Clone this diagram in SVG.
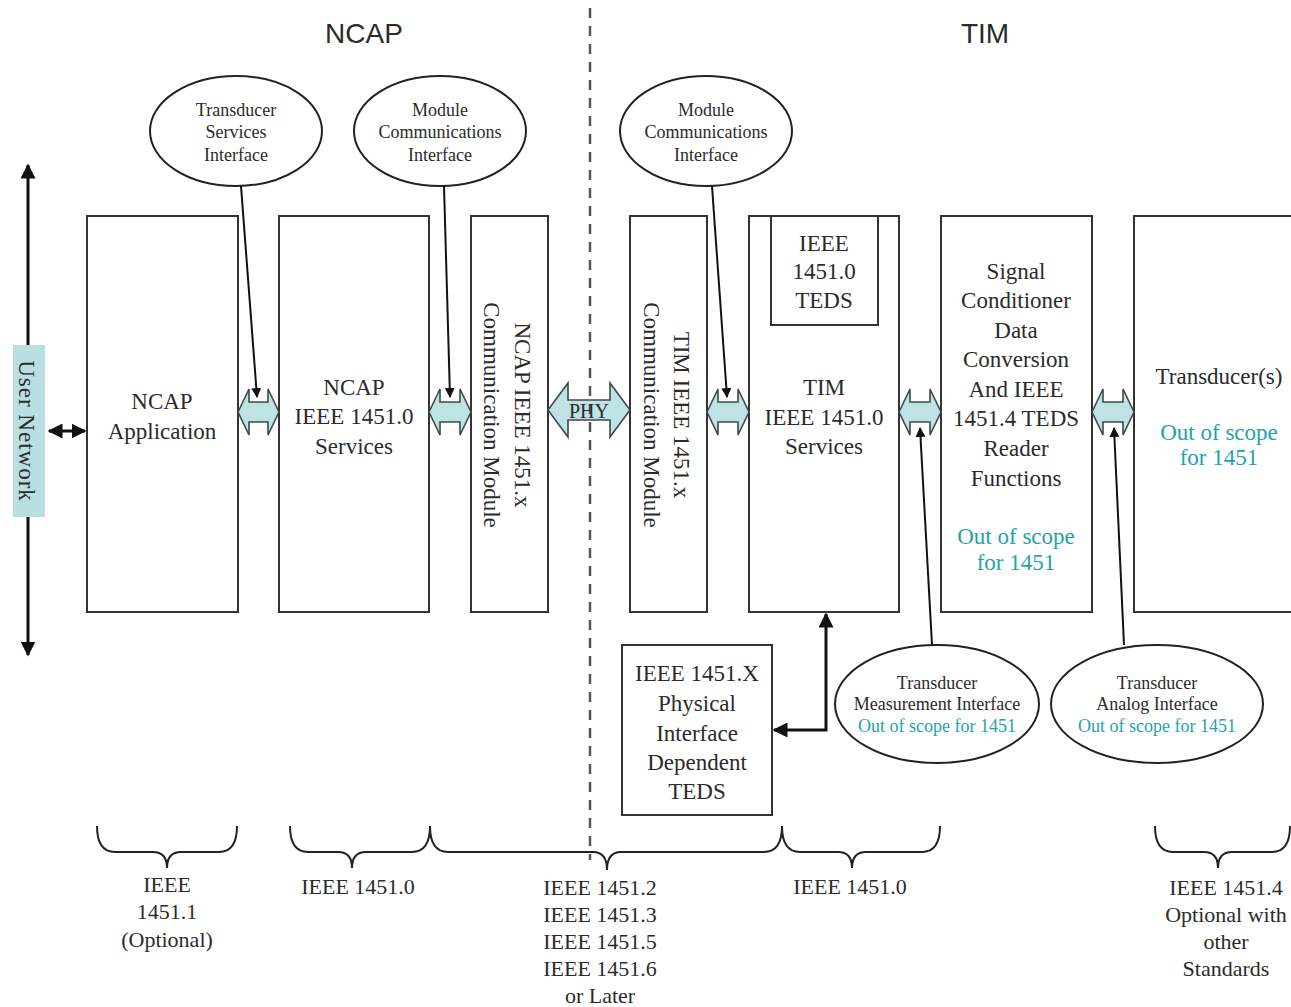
<svg xmlns="http://www.w3.org/2000/svg" width="1291" height="1007" viewBox="0 0 1291 1007">
  <style>
    .box { fill: #ffffff; stroke: #333333; stroke-width: 2; }
    .ell { fill: #ffffff; stroke: #222222; stroke-width: 2; }
    .link { fill: #bfe2e4; stroke: #3c4a4c; stroke-width: 1.6; stroke-linejoin: miter; }
    .t { font-family: "Liberation Serif", "Times New Roman", serif; fill: #2b2b2b; text-anchor: middle; }
    .b { font-size: 23px; }
    .s { font-size: 18px; }
    .lbl { font-size: 22px; }
    .oos { fill: #1fa3aa; }
    .title { font-family: "Liberation Sans", Arial, sans-serif; font-size: 28px; fill: #2b2b2b; text-anchor: middle; }
    .arr { stroke: #111111; stroke-width: 2; fill: none; }
    .thick { stroke: #111111; stroke-width: 3; fill: none; }
    .brace { stroke: #222222; stroke-width: 2; fill: none; }
  </style>
  <defs>
    <marker id="head" viewBox="0 0 10 10" refX="9" refY="5" markerWidth="5" markerHeight="5" orient="auto-start-reverse">
      <path d="M0,0 L10,5 L0,10 Z" fill="#111111"/>
    </marker>
  </defs>

  <rect width="1291" height="1007" fill="#ffffff"/>

  <!-- section titles -->
  <text class="title" x="364" y="43">NCAP</text>
  <text class="title" x="985" y="43">TIM</text>

  <!-- interface ellipses, top -->
  <g id="tsi">
    <ellipse class="ell" cx="236" cy="131" rx="86" ry="55"/>
    <text class="t s" x="236" y="116">Transducer</text>
    <text class="t s" x="236" y="138">Services</text>
    <text class="t s" x="236" y="161">Interface</text>
  </g>
  <g id="mci-ncap">
    <ellipse class="ell" cx="440" cy="131" rx="86" ry="55"/>
    <text class="t s" x="440" y="116">Module</text>
    <text class="t s" x="440" y="138">Communications</text>
    <text class="t s" x="440" y="161">Interface</text>
  </g>
  <g id="mci-tim">
    <ellipse class="ell" cx="706" cy="131" rx="86" ry="55"/>
    <text class="t s" x="706" y="116">Module</text>
    <text class="t s" x="706" y="138">Communications</text>
    <text class="t s" x="706" y="161">Interface</text>
  </g>

  <!-- main blocks -->
  <g id="ncap-app">
    <rect class="box" x="87" y="216" width="151" height="396"/>
    <text class="t b" x="162" y="409">NCAP</text>
    <text class="t b" x="162" y="439">Application</text>
  </g>
  <g id="ncap-services">
    <rect class="box" x="279" y="216" width="150" height="396"/>
    <text class="t b" x="354" y="395">NCAP</text>
    <text class="t b" x="354" y="424">IEEE 1451.0</text>
    <text class="t b" x="354" y="454">Services</text>
  </g>
  <g id="ncap-comm">
    <rect class="box" x="471" y="216" width="77" height="396"/>
    <g transform="translate(515,415) rotate(90)">
      <text class="t b" x="0" y="0">NCAP IEEE 1451.x</text>
      <text class="t b" x="0" y="31">Communication Module</text>
    </g>
  </g>
  <g id="tim-comm">
    <rect class="box" x="630" y="216" width="77" height="396"/>
    <g transform="translate(674,415) rotate(90)">
      <text class="t b" x="0" y="0">TIM IEEE 1451.x</text>
      <text class="t b" x="0" y="30">Communication Module</text>
    </g>
  </g>
  <g id="tim-services">
    <rect class="box" x="749" y="216" width="150" height="396"/>
    <rect class="box" x="771" y="216" width="107" height="109"/>
    <text class="t b" x="824" y="251">IEEE</text>
    <text class="t b" x="824" y="279">1451.0</text>
    <text class="t b" x="824" y="308">TEDS</text>
    <text class="t b" x="824" y="395">TIM</text>
    <text class="t b" x="824" y="425">IEEE 1451.0</text>
    <text class="t b" x="824" y="454">Services</text>
  </g>
  <g id="signal-conditioner">
    <rect class="box" x="941" y="216" width="151" height="396"/>
    <text class="t b" x="1016" y="279">Signal</text>
    <text class="t b" x="1016" y="308">Conditioner</text>
    <text class="t b" x="1016" y="338">Data</text>
    <text class="t b" x="1016" y="367">Conversion</text>
    <text class="t b" x="1016" y="397">And IEEE</text>
    <text class="t b" x="1016" y="426">1451.4 TEDS</text>
    <text class="t b" x="1016" y="456">Reader</text>
    <text class="t b" x="1016" y="486">Functions</text>
    <text class="t b oos" x="1016" y="544">Out of scope</text>
    <text class="t b oos" x="1016" y="570">for 1451</text>
  </g>
  <g id="transducers">
    <rect class="box" x="1134" y="216" width="170" height="396"/>
    <text class="t b" x="1219" y="384">Transducer(s)</text>
    <text class="t b oos" x="1219" y="440">Out of scope</text>
    <text class="t b oos" x="1219" y="465">for 1451</text>
  </g>
  <g id="phys-teds">
    <rect class="box" x="622" y="645" width="150" height="170"/>
    <text class="t b" x="697" y="681">IEEE 1451.X</text>
    <text class="t b" x="697" y="711">Physical</text>
    <text class="t b" x="697" y="741">Interface</text>
    <text class="t b" x="697" y="770">Dependent</text>
    <text class="t b" x="697" y="799">TEDS</text>
  </g>

  <!-- interface ellipses, bottom -->
  <g id="tmi">
    <ellipse class="ell" cx="937" cy="704" rx="102" ry="59"/>
    <text class="t s" x="937" y="689">Transducer</text>
    <text class="t s" x="937" y="710">Measurement Interface</text>
    <text class="t s oos" x="937" y="732">Out of scope for 1451</text>
  </g>
  <g id="tai">
    <ellipse class="ell" cx="1157" cy="704" rx="106" ry="59"/>
    <text class="t s" x="1157" y="689">Transducer</text>
    <text class="t s" x="1157" y="710">Analog Interface</text>
    <text class="t s oos" x="1157" y="732">Out of scope for 1451</text>
  </g>

  <!-- user network -->
  <g id="user-network">
    <line class="thick" x1="28" y1="655" x2="28" y2="165" marker-start="url(#head)" marker-end="url(#head)"/>
    <rect x="13" y="345" width="32" height="172" fill="#b9dfe0"/>
    <g transform="translate(19,431) rotate(90)">
      <text class="t" x="0" y="0" font-size="23" letter-spacing="1">User Network</text>
    </g>
  </g>

  <!-- connectors -->
  <g id="connectors">
    <line class="thick" x1="49" y1="431" x2="85" y2="431" marker-start="url(#head)" marker-end="url(#head)"/>

    <!-- interface arrows between blocks -->
    <path class="link" d="M238,412 L249,389 L249,402 L268,402 L268,389 L279,412 L268,435 L268,422 L249,422 L249,435 Z"/>
    <path class="link" d="M429,412 L440,389 L440,402 L460,402 L460,389 L471,412 L460,435 L460,422 L440,422 L440,435 Z"/>
    <path class="link" d="M707,412 L718,389 L718,402 L738,402 L738,389 L749,412 L738,435 L738,422 L718,422 L718,435 Z"/>
    <path class="link" d="M899,412 L910,389 L910,402 L930,402 L930,389 L941,412 L930,435 L930,422 L910,422 L910,435 Z"/>
    <path class="link" d="M1092,412 L1103,389 L1103,402 L1123,402 L1123,389 L1134,412 L1123,435 L1123,422 L1103,422 L1103,435 Z"/>
    <path class="link" d="M548,410 L568,383 L568,400 L610,400 L610,383 L630,410 L610,437 L610,420 L568,420 L568,437 Z"/>

    <!-- NCAP / TIM boundary -->
    <line x1="590" y1="8" x2="590" y2="860" stroke="#555555" stroke-width="2.5" stroke-dasharray="10,8"/>
    <text class="t" x="589" y="418" font-size="20" fill="#24505f">PHY</text>

    <!-- pointers from interface ellipses -->
    <line class="arr" x1="241" y1="186" x2="257" y2="397" marker-end="url(#head)"/>
    <line class="arr" x1="444" y1="186" x2="450" y2="397" marker-end="url(#head)"/>
    <line class="arr" x1="712" y1="186" x2="727" y2="397" marker-end="url(#head)"/>
    <line class="arr" x1="932" y1="645" x2="920" y2="428" marker-end="url(#head)"/>
    <line class="arr" x1="1124" y1="645" x2="1114" y2="428" marker-end="url(#head)"/>

    <!-- TIM services to physical TEDS -->
    <path class="thick" d="M826,614 L826,730 L774,730" marker-start="url(#head)" marker-end="url(#head)"/>
  </g>

  <!-- standards braces -->
  <g id="braces">
    <path class="brace" d="M97,826 Q97,852 115,852 L153,852 Q167,852 167,868 Q167,852 181,852 L219,852 Q237,852 237,826"/>
    <path class="brace" d="M290,826 Q290,852 308,852 L338,852 Q352,852 352,868 Q352,852 366,852 L412,852 Q430,852 430,826"/>
    <path class="brace" d="M430,826 Q430,852 448,852 L593,852 Q607,852 607,870 Q607,852 621,852 L764,852 Q782,852 782,826"/>
    <path class="brace" d="M782,826 Q782,852 800,852 L838,852 Q852,852 852,868 Q852,852 866,852 L922,852 Q940,852 940,826"/>
    <path class="brace" d="M1155,826 Q1155,852 1173,852 L1204,852 Q1218,852 1218,868 Q1218,852 1232,852 L1272,852 Q1290,852 1290,826"/>
  </g>

  <g id="standards-labels">
    <text class="t lbl" x="167" y="892">IEEE</text>
    <text class="t lbl" x="167" y="919">1451.1</text>
    <text class="t lbl" x="167" y="947">(Optional)</text>
    <text class="t lbl" x="358" y="894">IEEE 1451.0</text>
    <text class="t lbl" x="600" y="895">IEEE 1451.2</text>
    <text class="t lbl" x="600" y="922">IEEE 1451.3</text>
    <text class="t lbl" x="600" y="949">IEEE 1451.5</text>
    <text class="t lbl" x="600" y="976">IEEE 1451.6</text>
    <text class="t lbl" x="600" y="1003">or Later</text>
    <text class="t lbl" x="850" y="894">IEEE 1451.0</text>
    <text class="t lbl" x="1226" y="895">IEEE 1451.4</text>
    <text class="t lbl" x="1226" y="922">Optional with</text>
    <text class="t lbl" x="1226" y="949">other</text>
    <text class="t lbl" x="1226" y="976">Standards</text>
  </g>
</svg>
